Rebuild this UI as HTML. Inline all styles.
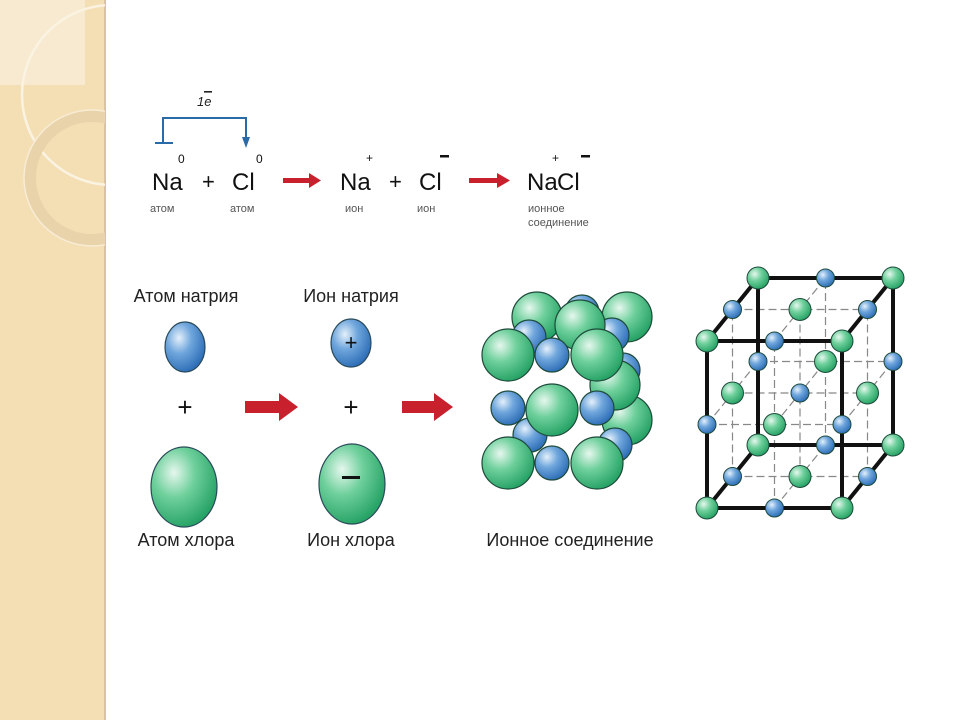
<!DOCTYPE html>
<html><head><meta charset="utf-8"><style>
html,body{margin:0;padding:0;background:#fff;width:960px;height:720px;overflow:hidden}
svg text{font-family:"Liberation Sans",sans-serif}
</style></head><body>
<svg width="960" height="720" viewBox="0 0 960 720" xmlns="http://www.w3.org/2000/svg">
<defs>
<radialGradient id="g" cx="0.35" cy="0.32" r="0.7">
<stop offset="0" stop-color="#e6f7ee"/><stop offset="0.45" stop-color="#6fd09c"/><stop offset="1" stop-color="#27a366"/>
</radialGradient>
<radialGradient id="b" cx="0.35" cy="0.32" r="0.7">
<stop offset="0" stop-color="#e4f0fb"/><stop offset="0.45" stop-color="#6fa6dc"/><stop offset="1" stop-color="#2f6fb8"/>
</radialGradient>
<clipPath id="sb"><rect x="0" y="0" width="105" height="720"/></clipPath>
</defs>
<rect x="0" y="0" width="105" height="720" fill="#f4dfb5"/>
<rect x="104" y="0" width="2" height="720" fill="#d9c49c"/>
<g clip-path="url(#sb)">
<rect x="0" y="0" width="85" height="85" fill="#f7ead0"/>
<circle cx="112" cy="95" r="90" fill="none" stroke="#fbf3e2" stroke-width="2.5"/>
<circle cx="92" cy="178" r="62" fill="none" stroke="#e9d3aa" stroke-width="12"/>
<circle cx="92" cy="178" r="68" fill="none" stroke="#f8ecd4" stroke-width="1.5"/>
</g>
<path d="M163 143 V118 H246 V140" fill="none" stroke="#2a6aa8" stroke-width="2"/>
<path d="M155 143 H173" stroke="#2a6aa8" stroke-width="2"/>
<path d="M242 137 L246 148 L250 137 Z" fill="#2a6aa8"/>
<text x="197" y="106" font-size="13" font-style="italic" fill="#222">1e</text>
<rect x="204" y="91" width="8" height="1.6" fill="#222"/>
<g fill="#111" font-size="24">
<text x="152" y="190">Na</text>
<text x="202" y="189" font-size="22">+</text>
<text x="232" y="190">Cl</text>
<text x="340" y="190">Na</text>
<text x="389" y="189" font-size="22">+</text>
<text x="419" y="190">Cl</text>
<text x="527" y="190">Na</text>
<text x="557" y="190">Cl</text>
</g>
<g fill="#111" font-size="12">
<text x="178" y="163">0</text><text x="256" y="163">0</text>
<text x="366" y="162">+</text><text x="552" y="162">+</text>
</g>
<rect x="440" y="155" width="9" height="2.5" fill="#111"/>
<rect x="581" y="155" width="9" height="2.5" fill="#111"/>
<g fill="#555" font-size="11">
<text x="150" y="212">атом</text><text x="230" y="212">атом</text>
<text x="345" y="212">ион</text><text x="417" y="212">ион</text>
<text x="528" y="212">ионное</text><text x="528" y="226">соединение</text>
</g>
<g fill="#c8202c">
<rect x="283" y="178" width="28" height="5"/><path d="M309 173 L321 180.5 L309 188 Z"/>
<rect x="469" y="178" width="30" height="5"/><path d="M497 173 L510 180.5 L497 188 Z"/>
<rect x="245" y="401" width="36" height="12"/><path d="M279 393 L298 407 L279 421 Z"/>
<rect x="402" y="401" width="34" height="12"/><path d="M434 393 L453 407 L434 421 Z"/>
</g>
<g stroke="#2a4a5a" stroke-width="1.2">
<ellipse cx="185" cy="347" rx="20" ry="25" fill="url(#b)"/>
<ellipse cx="184" cy="487" rx="33" ry="40" fill="url(#g)"/>
<ellipse cx="351" cy="343" rx="20" ry="24" fill="url(#b)"/>
<ellipse cx="352" cy="484" rx="33" ry="40" fill="url(#g)"/>
</g>
<text x="351" y="350" font-size="22" text-anchor="middle" fill="#111">+</text>
<rect x="342" y="476" width="18" height="3" fill="#111"/>
<g font-size="26" fill="#111" text-anchor="middle">
<text x="185" y="416">+</text>
<text x="351" y="416">+</text>
</g>
<g font-size="18" fill="#222" text-anchor="middle">
<text x="186" y="302">Атом натрия</text>
<text x="186" y="546">Атом хлора</text>
<text x="351" y="302">Ион натрия</text>
<text x="351" y="546">Ион хлора</text>
<text x="570" y="546">Ионное соединение</text>
</g>
<g stroke="#1d4a3a" stroke-width="1.2">
<circle cx="627" cy="420" r="25" fill="url(#g)"/>
<circle cx="615" cy="445" r="17" fill="url(#b)"/>
<circle cx="627" cy="317" r="25" fill="url(#g)"/>
<circle cx="582" cy="312" r="17" fill="url(#b)"/>
<circle cx="537" cy="317" r="25" fill="url(#g)"/>
<circle cx="623" cy="370" r="17" fill="url(#b)"/>
<circle cx="615" cy="385" r="25" fill="url(#g)"/>
<circle cx="529" cy="337" r="17" fill="url(#b)"/>
<circle cx="612" cy="335" r="17" fill="url(#b)"/>
<circle cx="580" cy="325" r="25" fill="url(#g)"/>
<circle cx="530" cy="435" r="17" fill="url(#b)"/>
<circle cx="508" cy="355" r="26" fill="url(#g)"/>
<circle cx="597" cy="355" r="26" fill="url(#g)"/>
<circle cx="552" cy="355" r="17" fill="url(#b)"/>
<circle cx="508" cy="408" r="17" fill="url(#b)"/>
<circle cx="597" cy="408" r="17" fill="url(#b)"/>
<circle cx="552" cy="410" r="26" fill="url(#g)"/>
<circle cx="508" cy="463" r="26" fill="url(#g)"/>
<circle cx="597" cy="463" r="26" fill="url(#g)"/>
<circle cx="552" cy="463" r="17" fill="url(#b)"/>
</g>
<!-- lattice dashed -->
<g stroke="#888" stroke-width="1.2" stroke-dasharray="8 4">
<line x1="732.5" y1="476.5" x2="867.5" y2="476.5"/>
<line x1="707" y1="424.5" x2="842" y2="424.5"/>
<line x1="732.5" y1="393" x2="867.5" y2="393"/>
<line x1="758" y1="361.5" x2="893" y2="361.5"/>
<line x1="732.5" y1="309.5" x2="867.5" y2="309.5"/>
<line x1="732.5" y1="476.5" x2="732.5" y2="309.5"/>
<line x1="774.5" y1="508" x2="774.5" y2="341"/>
<line x1="800" y1="476.5" x2="800" y2="309.5"/>
<line x1="825.5" y1="445" x2="825.5" y2="278"/>
<line x1="867.5" y1="476.5" x2="867.5" y2="309.5"/>
<line x1="707" y1="424.5" x2="758" y2="361.5"/>
<line x1="774.5" y1="508" x2="825.5" y2="445"/>
<line x1="774.5" y1="424.5" x2="825.5" y2="361.5"/>
<line x1="774.5" y1="341" x2="825.5" y2="278"/>
<line x1="842" y1="424.5" x2="893" y2="361.5"/>
</g>
<g stroke="#111" stroke-width="4">
<line x1="707" y1="508" x2="842" y2="508"/>
<line x1="707" y1="341" x2="842" y2="341"/>
<line x1="758" y1="445" x2="893" y2="445"/>
<line x1="758" y1="278" x2="893" y2="278"/>
<line x1="707" y1="508" x2="707" y2="341"/>
<line x1="842" y1="508" x2="842" y2="341"/>
<line x1="758" y1="445" x2="758" y2="278"/>
<line x1="893" y1="445" x2="893" y2="278"/>
<line x1="707" y1="508" x2="758" y2="445"/>
<line x1="842" y1="508" x2="893" y2="445"/>
<line x1="707" y1="341" x2="758" y2="278"/>
<line x1="842" y1="341" x2="893" y2="278"/>
</g>
<g stroke="#1d4a3a" stroke-width="1">
<circle cx="758" cy="445" r="11" fill="url(#g)"/>
<circle cx="825.5" cy="445" r="9" fill="url(#b)"/>
<circle cx="893" cy="445" r="11" fill="url(#g)"/>
<circle cx="758" cy="361.5" r="9" fill="url(#b)"/>
<circle cx="825.5" cy="361.5" r="11" fill="url(#g)"/>
<circle cx="893" cy="361.5" r="9" fill="url(#b)"/>
<circle cx="758" cy="278" r="11" fill="url(#g)"/>
<circle cx="825.5" cy="278" r="9" fill="url(#b)"/>
<circle cx="893" cy="278" r="11" fill="url(#g)"/>
<circle cx="732.5" cy="476.5" r="9" fill="url(#b)"/>
<circle cx="800" cy="476.5" r="11" fill="url(#g)"/>
<circle cx="867.5" cy="476.5" r="9" fill="url(#b)"/>
<circle cx="732.5" cy="393" r="11" fill="url(#g)"/>
<circle cx="800" cy="393" r="9" fill="url(#b)"/>
<circle cx="867.5" cy="393" r="11" fill="url(#g)"/>
<circle cx="732.5" cy="309.5" r="9" fill="url(#b)"/>
<circle cx="800" cy="309.5" r="11" fill="url(#g)"/>
<circle cx="867.5" cy="309.5" r="9" fill="url(#b)"/>
<circle cx="707" cy="508" r="11" fill="url(#g)"/>
<circle cx="774.5" cy="508" r="9" fill="url(#b)"/>
<circle cx="842" cy="508" r="11" fill="url(#g)"/>
<circle cx="707" cy="424.5" r="9" fill="url(#b)"/>
<circle cx="774.5" cy="424.5" r="11" fill="url(#g)"/>
<circle cx="842" cy="424.5" r="9" fill="url(#b)"/>
<circle cx="707" cy="341" r="11" fill="url(#g)"/>
<circle cx="774.5" cy="341" r="9" fill="url(#b)"/>
<circle cx="842" cy="341" r="11" fill="url(#g)"/>
</g>
</svg>
</body></html>
